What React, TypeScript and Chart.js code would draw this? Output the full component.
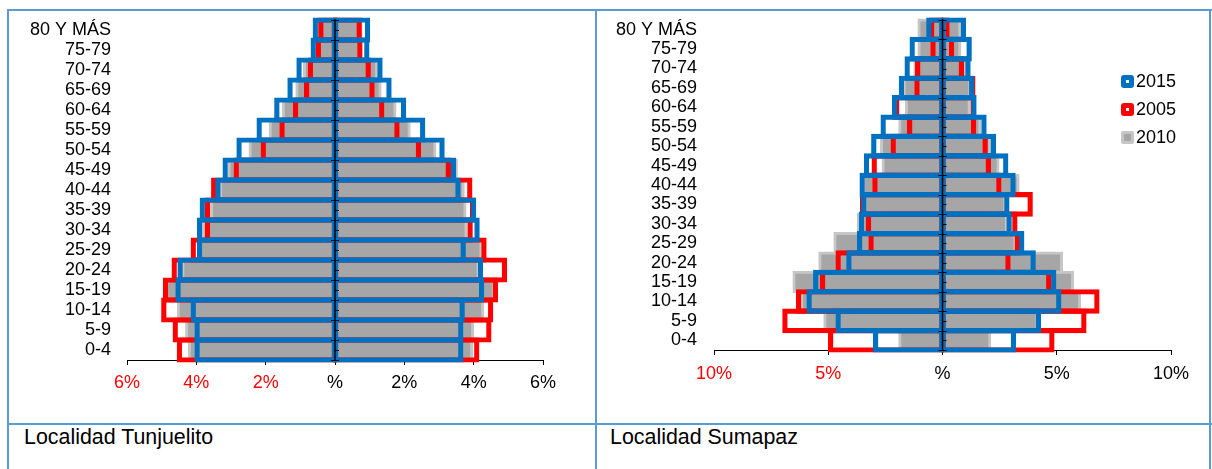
import React, { useEffect, useRef } from 'react';
import { Chart, registerables } from 'chart.js';

Chart.register(...registerables);

// ---------- data ----------
const AGE_GROUPS = ['0-4', '5-9', '10-14', '15-19', '20-24', '25-29', '30-34', '35-39', '40-44', '45-49', '50-54', '55-59', '60-64', '65-69', '70-74', '75-79', '80 Y MÁS'];

const YEARS = ['2015', '2005', '2010'];

// Localidad Tunjuelito (% of population), men (left) and women (right)
const TUN_MEN_2015 = [3.98, 3.98, 4.09, 4.53, 4.47, 3.91, 3.91, 3.83, 3.38, 3.17, 2.77, 2.19, 1.68, 1.30, 1.04, 0.63, 0.57];
const TUN_WOMEN_2015 = [3.63, 3.63, 3.67, 4.23, 4.20, 3.70, 4.10, 4.00, 3.55, 3.42, 3.09, 2.53, 1.98, 1.56, 1.30, 0.92, 0.94];
const TUN_MEN_2005 = [4.49, 4.61, 4.94, 4.89, 4.64, 4.09, 3.68, 3.68, 3.50, 2.85, 2.07, 1.53, 1.14, 0.82, 0.71, 0.48, 0.41];
const TUN_WOMEN_2005 = [4.09, 4.44, 4.49, 4.63, 4.89, 4.30, 3.90, 3.97, 3.89, 3.27, 2.41, 1.79, 1.35, 1.07, 0.96, 0.72, 0.70];
const TUN_MEN_2010 = [4.20, 4.28, 4.52, 4.85, 4.39, 3.90, 3.80, 3.56, 3.30, 3.06, 2.45, 1.87, 1.49, 1.10, 0.88, 0.55, 0.50];
const TUN_WOMEN_2010 = [3.94, 3.97, 4.26, 4.57, 4.13, 4.21, 3.78, 3.75, 3.70, 3.50, 2.88, 2.14, 1.73, 1.30, 1.20, 0.75, 0.75];

// Localidad Sumapaz
const SUM_MEN_2015 = [2.93, 4.57, 5.84, 5.55, 4.10, 3.63, 3.55, 3.45, 3.52, 3.33, 3.01, 2.60, 2.10, 1.80, 1.55, 1.33, 0.60];
const SUM_WOMEN_2015 = [3.11, 4.20, 5.09, 4.87, 3.97, 3.47, 2.92, 2.82, 3.09, 2.77, 2.23, 1.82, 1.38, 1.28, 1.12, 1.17, 0.92];
const SUM_MEN_2005 = [4.90, 6.90, 6.30, 5.25, 4.57, 3.13, 3.24, 3.50, 2.96, 2.99, 2.16, 1.44, 2.01, 1.12, 1.09, 0.42, 0.48];
const SUM_WOMEN_2005 = [4.79, 6.19, 6.76, 4.65, 2.87, 3.28, 3.17, 3.84, 2.47, 2.01, 1.87, 1.36, 1.35, 1.33, 0.83, 0.40, 0.20];
const SUM_MEN_2010 = [1.87, 5.15, 6.17, 6.50, 5.37, 4.71, 3.68, 3.40, 3.45, 2.60, 2.67, 1.87, 1.58, 1.68, 1.21, 1.03, 1.03];
const SUM_WOMEN_2010 = [2.07, 4.12, 6.00, 5.69, 5.21, 3.17, 2.80, 2.73, 3.31, 2.43, 2.07, 1.63, 1.17, 1.20, 0.98, 0.76, 0.76];

const TUN_AXIS_MAX = 6;
const TUN_AXIS_STEP = 2;
const SUM_AXIS_MAX = 10;
const SUM_AXIS_STEP = 5;

const CAPTIONS = ['Localidad Tunjuelito', 'Localidad Sumapaz'];

// ---------- styles ----------
const BLUE = '#0070C0';
const RED = '#FF0000';
const GRAY = '#A6A6A6';
const GRAY_EDGE = '#C6C6C6';
const TABLE_BLUE = '#5B9BD5';
const FONT = 'Arial, "Liberation Sans", Helvetica, sans-serif';

const centerAxisPlugin = {
  id: 'centerAxis',
  afterDatasetsDraw(chart: any) {
    const { ctx, chartArea, scales } = chart;
    const x0 = scales.x.getPixelForValue(0);
    const n = chart.data.labels.length;
    const rowH = (chartArea.bottom - chartArea.top) / n;
    ctx.save();
    ctx.strokeStyle = '#000';
    ctx.lineWidth = 1.5;
    ctx.beginPath();
    ctx.moveTo(x0, chartArea.top - 1);
    ctx.lineTo(x0, chartArea.bottom);
    ctx.stroke();
    ctx.lineWidth = 1;
    ctx.beginPath();
    for (let i = 0; i <= n; i++) {
      const y = Math.round(chartArea.top + i * rowH) + 0.5;
      ctx.moveTo(x0 - 4, y);
      ctx.lineTo(x0 + 4, y);
    }
    for (let i = 0; i < n; i++) {
      const y = Math.round(chartArea.top + (i + 0.5) * rowH) + 0.5;
      ctx.moveTo(x0, y);
      ctx.lineTo(x0 + 4, y);
    }
    ctx.stroke();
    ctx.restore();
  },
};

function outlineSet(label: string, data: number[], color: string, order: number) {
  return {
    label,
    data,
    backgroundColor: 'rgba(0,0,0,0)',
    borderColor: color,
    borderWidth: 0.01,
    inflateAmount: 2.6,
    borderSkipped: false,
    grouped: false,
    categoryPercentage: 1,
    barPercentage: 1,
    order,
    clip: false,
  };
}

function filledSet(label: string, data: number[], order: number) {
  return {
    label,
    data,
    backgroundColor: GRAY,
    borderColor: GRAY_EDGE,
    borderWidth: 3,
    inflateAmount: 1.5,
    borderSkipped: false,
    grouped: false,
    categoryPercentage: 1,
    barPercentage: 1,
    order,
    clip: false,
  };
}

type PyramidProps = {
  left: number; top: number; width: number; height: number;
  men: number[][]; women: number[][];
  axisMax: number; axisStep: number;
  yWidth: number; labelPad: number; padRight: number; padTop: number; padBottom: number; tickPad: number;
};

function Pyramid(p: PyramidProps) {
  const ref = useRef<HTMLCanvasElement | null>(null);
  useEffect(() => {
    if (!ref.current) return;
    const neg = (a: number[]) => a.map((v) => -v);
    const chart = new Chart(ref.current, {
      type: 'bar',
      data: {
        labels: AGE_GROUPS,
        datasets: [
          outlineSet(YEARS[0], neg(p.men[0]), BLUE, 0),
          outlineSet(YEARS[0], p.women[0], BLUE, 0),
          outlineSet(YEARS[1], neg(p.men[1]), RED, 1),
          outlineSet(YEARS[1], p.women[1], RED, 1),
          filledSet(YEARS[2], neg(p.men[2]), 2),
          filledSet(YEARS[2], p.women[2], 2),
        ] as any,
      },
      options: {
        indexAxis: 'y',
        animation: false,
        responsive: false,
        events: [],
        layout: { padding: { left: 0, right: p.padRight, top: p.padTop, bottom: p.padBottom } },
        plugins: { legend: { display: false }, tooltip: { enabled: false }, title: { display: false } },
        scales: {
          x: {
            type: 'linear',
            min: -p.axisMax,
            max: p.axisMax,
            ticks: {
              stepSize: p.axisStep,
              padding: p.tickPad,
              font: { size: 18, family: FONT },
              color: (c: any) => (c.tick && c.tick.value < 0 ? RED : '#000'),
              callback: (v: any) => (Number(v) === 0 ? '%' : Math.abs(Number(v)) + '%'),
              maxRotation: 0,
              autoSkip: false,
            },
            grid: { display: true, drawOnChartArea: false, drawTicks: true, tickLength: 5, color: '#000', tickColor: '#000', lineWidth: 1 },
            border: { display: true, color: '#000', width: 1 },
            afterFit: (s: any) => { s.height = 40; s.paddingLeft = 0; s.paddingRight = 0; },
          },
          y: {
            type: 'category',
            reverse: true,
            ticks: { autoSkip: false, padding: p.labelPad, font: { size: 18, family: FONT, lineHeight: 1 }, color: '#000' },
            grid: { display: false, drawTicks: false, tickLength: 0 },
            border: { display: false },
            afterFit: (s: any) => { s.width = p.yWidth; s.paddingTop = 0; s.paddingBottom = 0; },
          },
        },
      },
      plugins: [centerAxisPlugin],
    } as any);
    return () => chart.destroy();
  }, []);
  return (
    <canvas
      ref={ref}
      width={p.width}
      height={p.height}
      style={{ position: 'absolute', left: p.left, top: p.top, width: p.width, height: p.height }}
    />
  );
}

const line = (l: number, t: number, w: number, h: number) => (
  <div style={{ position: 'absolute', left: l, top: t, width: w, height: h, background: TABLE_BLUE }} />
);

const LEGEND_ROWS = [
  { label: YEARS[0], kind: 'outline', color: BLUE, y: 81 },
  { label: YEARS[1], kind: 'outline', color: RED, y: 109 },
  { label: YEARS[2], kind: 'filled', color: GRAY, y: 137 },
];

export default function App() {
  return (
    <div style={{ position: 'absolute', left: 0, top: 0, width: 1212, height: 469, overflow: 'hidden', background: '#fff', fontFamily: FONT }}>
      {line(7, 9, 1205, 2)}
      {line(7, 9, 2, 470)}
      {line(595, 9, 2, 470)}
      {line(1209, 9, 2, 470)}
      {line(7, 423, 1205, 2)}

      <Pyramid
        left={9} top={11} width={586} height={412}
        men={[TUN_MEN_2015, TUN_MEN_2005, TUN_MEN_2010]}
        women={[TUN_WOMEN_2015, TUN_WOMEN_2005, TUN_WOMEN_2010]}
        axisMax={TUN_AXIS_MAX} axisStep={TUN_AXIS_STEP}
        yWidth={118} labelPad={16} padRight={52} padTop={9} padBottom={23} tickPad={7}
      />
      <Pyramid
        left={597} top={11} width={612} height={412}
        men={[SUM_MEN_2015, SUM_MEN_2005, SUM_MEN_2010]}
        women={[SUM_WOMEN_2015, SUM_WOMEN_2005, SUM_WOMEN_2010]}
        axisMax={SUM_AXIS_MAX} axisStep={SUM_AXIS_STEP}
        yWidth={117} labelPad={17} padRight={38} padTop={9} padBottom={33} tickPad={8}
      />

      {LEGEND_ROWS.map((r) => (
        <div key={r.label} style={{ position: 'absolute', left: 1121, top: r.y - 11, height: 22, display: 'flex', alignItems: 'center', fontSize: 18, color: '#000' }}>
          <div
            style={
              r.kind === 'outline'
                ? { width: 13, height: 13, boxSizing: 'border-box', border: `5px solid ${r.color}`, borderRadius: 3, background: '#fff' }
                : { width: 13, height: 13, boxSizing: 'border-box', border: `3px solid ${GRAY_EDGE}`, borderRadius: 2, background: r.color }
            }
          />
          <span style={{ marginLeft: 2, lineHeight: '22px' }}>{r.label}</span>
        </div>
      ))}

      <div style={{ position: 'absolute', left: 24, top: 425, fontSize: 21.4, lineHeight: '24px', color: '#000', whiteSpace: 'nowrap' }}>{CAPTIONS[0]}</div>
      <div style={{ position: 'absolute', left: 610, top: 425, fontSize: 21.4, lineHeight: '24px', color: '#000', whiteSpace: 'nowrap' }}>{CAPTIONS[1]}</div>
    </div>
  );
}
